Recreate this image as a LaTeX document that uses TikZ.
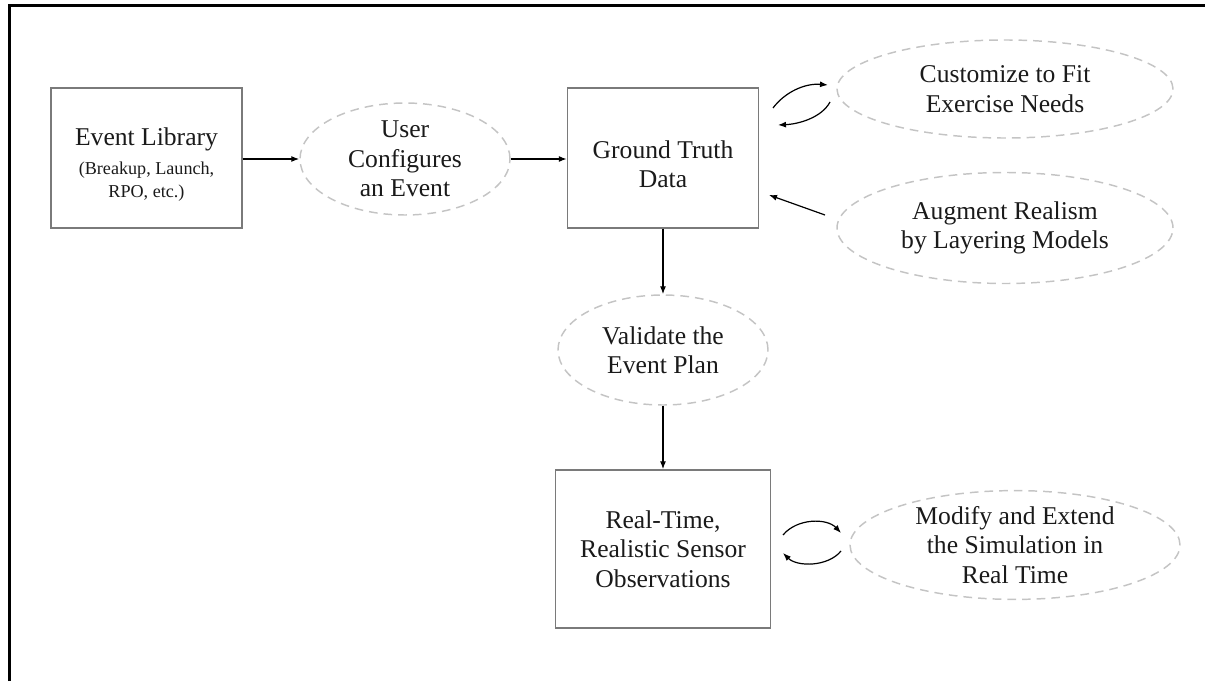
\documentclass[tikz,border=0pt]{standalone}
\usepackage{fontspec}
\setmainfont{Liberation Serif}
\usetikzlibrary{shapes.geometric,arrows.meta}
\definecolor{boxgray}{HTML}{7A7A7A}
\definecolor{ovalgray}{HTML}{C4C4C4}
\definecolor{txt}{HTML}{1A1A1A}
\newcommand{\mainfs}{\fontsize{19.2}{22}\selectfont}
\newcommand{\smallfs}{\fontsize{13.6}{15.7}\selectfont}
\begin{document}
\begin{tikzpicture}[x=0.75pt,y=-0.75pt,
  box/.style={draw=boxgray,line width=1.1pt,rectangle,inner sep=2pt,align=center,text=txt,font=\mainfs},
  oval/.style={ellipse,draw=ovalgray,line width=1.1pt,dash pattern=on 6.5pt off 4.5pt,inner sep=0pt,align=center,text=txt,font=\mainfs},
  arr/.style={-{Latex[length=6pt,width=4.5pt]},line width=0.9pt,draw=black}
]
\useasboundingbox (0,0) rectangle (1205,681);
% frame
\draw[line width=2.25pt] (9.5,681) -- (9.5,5.5) -- (1205,5.5);

% nodes
\node[box,minimum width=143.25pt,minimum height=105pt] (lib) at (146.5,158)
  {\rule{0pt}{23pt}Event Library\\\smallfs (Breakup, Launch,\\[-4.5pt]\smallfs RPO, etc.)};
\node[oval,minimum width=157.5pt,minimum height=84pt] (user) at (405,159)
  {User\\Configures\\an Event};
\node[box,minimum width=143.25pt,minimum height=105pt] (gt) at (663,158)
  {\rule{0pt}{23pt}Ground Truth\\Data};
\node[oval,minimum width=157.5pt,minimum height=82.5pt] (val) at (663,350)
  {Validate the\\Event Plan};
\node[box,minimum width=161.25pt,minimum height=118.5pt] (rt) at (663,549)
  {Real-Time,\\Realistic Sensor\\Observations};
\node[oval,minimum width=252pt,minimum height=73.5pt] (cust) at (1005,89)
  {Customize to Fit\\Exercise Needs};
\node[oval,minimum width=252pt,minimum height=83.25pt] (aug) at (1005,228)
  {Augment Realism\\by Layering Models};
\node[oval,minimum width=247.5pt,minimum height=79.5pt] (mod) at (1015,545)
  {Modify and Extend\\the Simulation in\\Real Time};

% straight connectors
\draw[arr] (user.west -| lib.east) -- (user.west);
\draw[arr] (user.east) -- (user.east -| gt.west);
\draw[arr] (gt.south) -- (val.north);
\draw[arr] (val.south) -- (rt.north);

% augment -> ground truth
\coordinate (augA) at (825,215);
\coordinate (gtA) at (769,195);
\draw[arr] (augA) -- (gtA);

% loop ground truth <-> customize
\coordinate (c1s) at (773,108);
\coordinate (c1e) at (828,85);
\draw[arr] (c1s) .. controls (785,92) and (805,83) .. (c1e);
\coordinate (c2s) at (830,102);
\coordinate (c2e) at (778,125);
\draw[arr] (c2s) .. controls (822,117) and (800,124) .. (c2e);

% loop real-time <-> modify
\coordinate (m1s) at (783,535);
\coordinate (m1e) at (841,533);
\draw[arr] (m1s) .. controls (797,518) and (827,518) .. (m1e);
\coordinate (m2s) at (841,551);
\coordinate (m2e) at (783,553);
\draw[arr] (m2s) .. controls (828,567) and (797,567) .. (m2e);
\end{tikzpicture}
\end{document}
